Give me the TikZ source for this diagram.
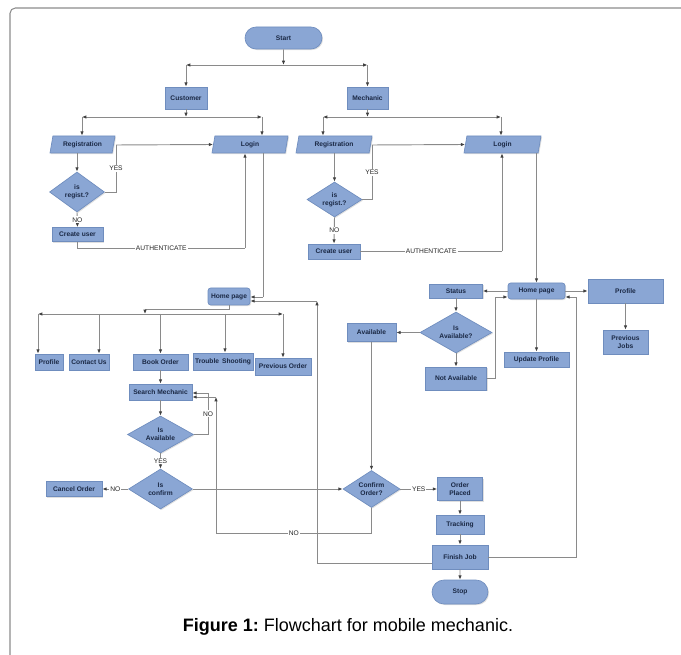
\documentclass[tikz,border=0pt]{standalone}
\usepackage{fontspec}
\setmainfont{Liberation Sans}
\usetikzlibrary{shapes.geometric,shapes.misc,arrows.meta,shadows}
\definecolor{boxfill}{HTML}{8AA6D4}
\definecolor{boxline}{HTML}{6F8DBE}
\definecolor{boxtext}{HTML}{1A2844}
\definecolor{wire}{HTML}{8A8A8A}
\definecolor{tipc}{HTML}{404040}
\definecolor{framec}{HTML}{8C8C8C}
\begin{document}
\begin{tikzpicture}[x=0.75pt,y=-0.75pt,
 base/.style={draw=boxline, fill=boxfill, line width=0.5pt, text=boxtext,
   font=\fontsize{5}{5.8}\selectfont\bfseries, align=center, inner sep=0pt,
   drop shadow={shadow xshift=0.8pt, shadow yshift=-0.8pt, opacity=0.25}},
 sz/.style 2 args={minimum width=#1*0.75pt, minimum height=#2*0.75pt},
 proc/.style={base, rectangle},
 term/.style={base, rounded rectangle},
 para/.style={base, trapezium, trapezium left angle=65, trapezium right angle=115, trapezium stretches body},
 dec/.style={base, diamond},
 wireline/.style={draw=wire, line width=0.7pt},
 arr/.style={wireline, -{Latex[length=3.2pt,width=2.6pt,color=tipc]}},
 lbl/.style={fill=white, inner sep=0.8pt, text=black!85, font=\fontsize{5}{6}\selectfont}
]
\useasboundingbox (0,0) rectangle (681,655);
\draw[framec, line width=0.8pt, rounded corners=4pt] (10,655) -- (10,8) -- (681,8);

% top
\node[term, sz={77}{22}] (start) at (283.5,38) {Start};
\node[proc, sz={42}{22}] (customer) at (186,98) {Customer};
\node[proc, sz={41}{22}] (mechanic) at (367.5,98) {Mechanic};

% customer side
\node[para, sz={65}{17}] (reg1) at (82.5,144.5) {Registration};
\node[para, sz={76}{17}] (login1) at (250,144.5) {Login};
\node[dec, sz={55}{40}, shape aspect=1.4] (isreg1) at (77,192) {is\\regist.?};
\node[proc, sz={51}{14}] (create1) at (77.5,234.5) {Create user};

% mechanic side
\node[para, sz={76}{17}] (reg2) at (334,144.5) {Registration};
\node[para, sz={77}{17}] (login2) at (502.5,144.5) {Login};
\node[dec, sz={55}{35}, shape aspect=1.6] (isreg2) at (334.5,199.5) {is\\regist.?};
\node[proc, sz={52}{15}] (create2) at (334,251.5) {Create user};

% customer home
\node[proc, sz={42}{17}, rounded corners=2pt] (home1) at (229,296.5) {Home page};
\node[proc, sz={28}{16}] (profile1) at (49,362) {Profile};
\node[proc, sz={40}{16}] (contact) at (89,362) {Contact Us};
\node[proc, sz={55}{16}] (book) at (160.5,362) {Book Order};
\node[proc, sz={60}{17}] (trouble) at (223,361.5) {Trouble \,Shooting};
\node[proc, sz={56}{17}] (prevorder) at (283,366.5) {Previous Order};
\node[proc, sz={63}{16}] (search) at (160.5,392) {Search Mechanic};
\node[dec, sz={66}{37}, shape aspect=1.8] (isavail1) at (160.5,434.5) {Is\\Available};
\node[dec, sz={64}{40}, shape aspect=1.6] (isconfirm) at (160.5,489) {Is\\confirm};
\node[proc, sz={56}{15}] (cancel) at (74,489) {Cancel Order};

% order flow
\node[dec, sz={57}{37}, shape aspect=1.5] (confirm) at (371.5,489) {Confirm\\Order?};
\node[proc, sz={45}{23}] (placed) at (460,489) {Order\\Placed};
\node[proc, sz={48}{19}] (tracking) at (460,524.5) {Tracking};
\node[proc, sz={56}{24}] (finish) at (460,557) {Finish Job};
\node[term, sz={56}{24}] (stop) at (460,592) {Stop};

% mechanic home
\node[proc, sz={57}{16}, rounded corners=2pt] (home2) at (536.5,291) {Home page};
\node[proc, sz={53}{14}] (status) at (456,291) {Status};
\node[proc, sz={75}{24}] (profile2) at (625.5,291) {Profile};
\node[proc, sz={45}{24}] (prevjobs) at (625.5,342) {Previous\\Jobs};
\node[proc, sz={65}{15}] (update) at (536.5,359.5) {Update Profile};
\node[dec, sz={72}{41}, shape aspect=1.75] (isavail2) at (456,332.5) {Is\\Available?};
\node[proc, sz={49}{18}] (available) at (371.5,332.5) {Available};
\node[proc, sz={61}{23}] (notavail) at (456,378.5) {Not Available};

% caption
\node (cap) at (348,627) {\fontsize{13.5}{16}\selectfont\textbf{Figure 1:}~Flowchart for mobile mechanic.};

% coordinates
\coordinate (j0) at (283.5,65);
\coordinate (jL) at (186,65);
\coordinate (jR) at (367.5,65);
\coordinate (c0) at (186,117);
\coordinate (cL) at (82,117);
\coordinate (cR) at (262,117);
\coordinate (m0) at (367.5,117);
\coordinate (mL) at (323,117);
\coordinate (mR) at (501,117);
\coordinate (y1) at (116,145);
\coordinate (y2) at (372,145);
\coordinate (a1) at (77.5,248);
\coordinate (a1r) at (245,248);
\coordinate (a2) at (502,251.5);
\coordinate (lb1) at (263,297);
\coordinate (h1a) at (229,309);
\coordinate (h1b) at (145,309);
\coordinate (b0) at (145,314);
\coordinate (bL) at (38,314);
\coordinate (bC) at (99,314);
\coordinate (bB) at (160.5,314);
\coordinate (bT) at (225,314);
\coordinate (bR) at (283,314);
\coordinate (n1) at (208,393);
\coordinate (n2b) at (216,533);
\coordinate (n2c) at (216,397);
\coordinate (f2) at (317,301);
\coordinate (na) at (495,297);
\coordinate (fr) at (576,297);

% start connectors
\draw[arr] (start) -- (j0);
\draw[arr] (j0) -- (jL);
\draw[arr] (j0) -- (jR);
\draw[arr] (jL) -- (customer);
\draw[arr] (jR) -- (mechanic);

% customer
\draw[arr] (customer) -- (c0);
\draw[arr] (c0) -- (cL);
\draw[arr] (c0) -- (cR);
\draw[arr] (cL) -- (cL |- reg1.north);
\draw[arr] (cR) -- (cR |- login1.north);
\draw[arr] (reg1.south -| isreg1.north) -- (isreg1.north);
\draw[wireline] (isreg1.east) -| node[lbl, pos=0.75] {YES} (y1);
\draw[arr] (y1) -- (login1.west);
\draw[arr] (isreg1.south) -- node[lbl] {NO} (create1.north);
\draw[wireline] (create1.south) -- (a1) -- node[lbl] {AUTHENTICATE} (a1r);
\draw[arr] (a1r) -- (a1r |- login1.south);
\draw[wireline] (login1.south -| lb1) -- (lb1);
\draw[arr] (lb1) -- (lb1 -| home1.east);

% mechanic
\draw[arr] (mechanic) -- (m0);
\draw[arr] (m0) -- (mL);
\draw[arr] (m0) -- (mR);
\draw[arr] (mL) -- (mL |- reg2.north);
\draw[arr] (mR) -- (mR |- login2.north);
\draw[arr] (reg2.south -| isreg2.north) -- (isreg2.north);
\draw[wireline] (isreg2.east) -| node[lbl, pos=0.75] {YES} (y2);
\draw[arr] (y2) -- (login2.west);
\draw[arr] (isreg2.south) -- node[lbl] {NO} (create2.north);
\draw[wireline] (create2.east) -- node[lbl] {AUTHENTICATE} (a2);
\draw[arr] (a2) -- (a2 |- login2.south);
\draw[arr] (home2.north |- login2.south) -- (home2.north);

% customer home
\draw[wireline] (home1.south) -- (h1a) -- (h1b);
\draw[arr] (h1b) -- (b0);
\draw[arr] (b0) -- (bL);
\draw[arr] (b0) -- (bR);
\draw[arr] (bL) -- (bL |- profile1.north);
\draw[arr] (bC) -- (bC |- contact.north);
\draw[arr] (bB) -- (bB |- book.north);
\draw[arr] (bT) -- (bT |- trouble.north);
\draw[arr] (bR) -- (bR |- prevorder.north);
\draw[arr] (book) -- (search);
\draw[arr] (search) -- (isavail1);
\draw[wireline] (isavail1.east) -| node[lbl, pos=0.75] {NO} (n1);
\draw[arr] (n1) -- (n1 -| search.east);
\draw[arr] (isavail1.south) -- node[lbl] {YES} (isconfirm.north);
\draw[arr] (isconfirm.west) -- node[lbl] {NO} (cancel.east);
\draw[arr] (isconfirm.east) -- (confirm.west);

% order
\draw[arr] (confirm.east) -- node[lbl] {YES} (placed.west);
\draw[wireline] (confirm.south) |- node[lbl, pos=0.75] {NO} (n2b);
\draw[arr] (n2b) -- (n2c);
\draw[arr] (n2c) -- (n2c -| search.east);
\draw[arr] (placed) -- (tracking);
\draw[arr] (tracking) -- (finish);
\draw[arr] (finish) -- (stop);
\draw[arr] ([yshift=-4.5pt]finish.west) -| (f2);
\draw[arr] (f2) -- (f2 -| home1.east);

% mechanic home
\draw[arr] (home2.west) -- (status.east);
\draw[arr] (home2.east) -- (profile2.west);
\draw[arr] (profile2) -- (prevjobs);
\draw[arr] (home2.south) -- (update.north);
\draw[arr] (status) -- (isavail2);
\draw[arr] (isavail2.west) -- (available.east);
\draw[arr] (isavail2.south) -- (notavail.north);
\draw[wireline] (notavail.east) -| (na);
\draw[arr] (na) -- (na -| home2.west);
\draw[wireline] (finish.east) -| (fr);
\draw[arr] (fr) -- (fr -| home2.east);
\draw[arr] (available) -- (confirm);
\end{tikzpicture}
\end{document}
